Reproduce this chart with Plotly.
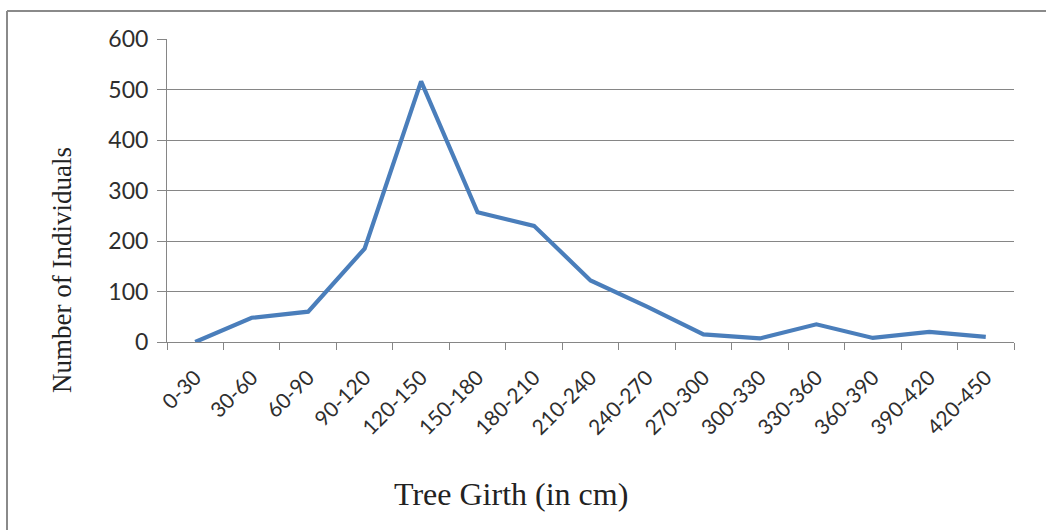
import plotly.graph_objects as go

# Girth classes (cm) and tree counts per class
girth_classes = ["0-30", "30-60", "60-90", "90-120", "120-150", "150-180",
                 "180-210", "210-240", "240-270", "270-300", "300-330",
                 "330-360", "360-390", "390-420", "420-450"]
individuals = [0, 48, 60, 185, 516, 257, 230, 122, 70, 15, 7, 35, 8, 20, 10]

y_ticks = [0, 100, 200, 300, 400, 500, 600]

W, H = 1046, 530
L, R, T, B = 167, 32, 39, 188
pw, ph = W - L - R, H - T - B


def px_x(x):
    return (x - L) / pw


def px_y(y):
    return (H - B - y) / ph


fig = go.Figure()
fig.add_trace(go.Scatter(
    x=girth_classes, y=individuals, mode="lines",
    line=dict(color="#4A7EBB", width=4.2),
    showlegend=False,
))

x_tick_font = dict(family="Lato, Open Sans, sans-serif", size=21, color="#2e2e2e")
y_tick_font = dict(family="Lato, Open Sans, sans-serif", size=23, color="#2e2e2e")
title_font = dict(family="Liberation Serif, Times New Roman, serif", color="#222222")

fig.update_layout(
    width=W, height=H,
    margin=dict(l=L, r=R, t=T, b=B),
    paper_bgcolor="white", plot_bgcolor="white",
    xaxis=dict(
        type="category", range=[-0.5, len(girth_classes) - 0.5],
        showgrid=False, showline=True, linecolor="#868686", linewidth=1,
        ticks="outside", ticklen=7, tickcolor="#868686", tickson="boundaries",
        tickangle=-45, tickfont=x_tick_font, ticklabelstandoff=14,
        zeroline=False,
    ),
    yaxis=dict(
        range=[0, 600], tickvals=y_ticks,
        showgrid=True, gridcolor="#868686", gridwidth=1,
        showline=True, linecolor="#868686", linewidth=1,
        ticks="outside", ticklen=9, tickcolor="#868686",
        tickfont=y_tick_font, ticklabelstandoff=4,
        zeroline=False,
    ),
    annotations=[
        dict(text="Tree Girth (in cm)", xref="paper", yref="paper",
             x=px_x(511), y=px_y(494), xanchor="center", yanchor="middle",
             showarrow=False, font=dict(size=32, **title_font)),
        dict(text="Number of Individuals", xref="paper", yref="paper",
             x=px_x(62), y=px_y(270), xanchor="center", yanchor="middle",
             textangle=-90, showarrow=False, font=dict(size=27, **title_font)),
    ],
    shapes=[
        dict(type="line", xref="paper", yref="paper",
             x0=px_x(7), x1=px_x(1050), y0=px_y(11), y1=px_y(11),
             line=dict(color="#8a8a8a", width=2)),
        dict(type="line", xref="paper", yref="paper",
             x0=px_x(7), x1=px_x(7), y0=px_y(11), y1=px_y(535),
             line=dict(color="#8a8a8a", width=2)),
    ],
)

fig.write_html("out.html")
